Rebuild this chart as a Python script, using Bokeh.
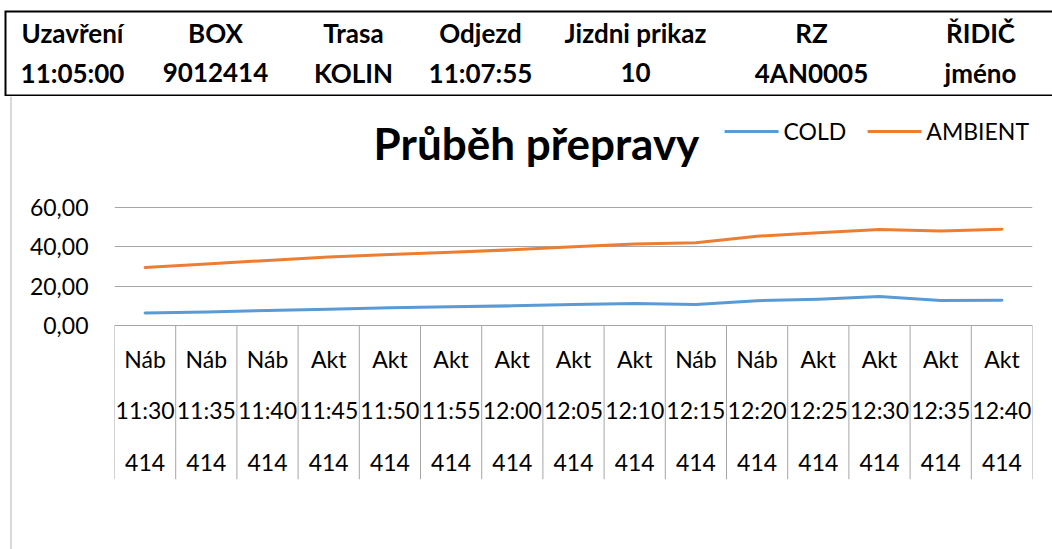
from bokeh.plotting import figure
from bokeh.models import (ColumnDataSource, FactorRange, Range1d, FixedTicker, Legend,
                          LegendItem, CustomJSTickFormatter)
from bokeh.layouts import column, row
from bokeh.core.properties import value
from bokeh.embed import file_html
from bokeh.resources import INLINE

# ---------------- data ----------------
header_titles = ["Uzavření", "BOX", "Trasa", "Odjezd", "Jizdni prikaz", "RZ", "ŘIDIČ"]
header_values = ["11:05:00", "9012414", "KOLIN", "11:07:55", "10", "4AN0005", "jméno"]

cat_type = ["Náb", "Náb", "Náb", "Akt", "Akt", "Akt", "Akt", "Akt", "Akt",
            "Náb", "Náb", "Akt", "Akt", "Akt", "Akt"]
cat_time = ["11:30", "11:35", "11:40", "11:45", "11:50", "11:55", "12:00", "12:05",
            "12:10", "12:15", "12:20", "12:25", "12:30", "12:35", "12:40"]
cat_code = ["414", "414", "414", "414", "414", "414", "414", "414",
            "414", "414", "414", "414", "414", "414", "414"]

cold = [6.4, 6.9, 7.6, 8.3, 9.0, 9.5, 10.0, 10.7, 11.2, 10.7, 12.6, 13.4, 14.7, 12.7, 12.8]
ambient = [29.5, 31.3, 33.1, 34.8, 36.1, 37.3, 38.5, 40.0, 41.5, 42.1, 45.4, 47.1, 48.8, 48.0, 48.9]

y_ticks = [0, 20, 40, 60]
title_text = "Průběh přepravy"

# ---------------- layout / style ----------------
FONT = "Lato"
GRID = "#a6a6a6"
HDR_W, HDR_H = 1052, 96
CH_H = 453
STRIP_W = 12
header_x = [72, 215, 353, 480, 635, 811, 980]
header_rows_y = [64, 24]
header_box = dict(left=5, right=HDR_W + 20, top=85, bottom=1)
label_rows_y = [-16.8, -43.2, -69.7]
title_pos = (6.895, 92.8)
Y_START, Y_END = -78.3, 116.44

factors = [f"{a} {b} {c}" for a, b, c in zip(cat_type, cat_time, cat_code)]


def no_align(fig):
    if "frame_align" in fig.properties():
        fig.frame_align = False


def bare(fig):
    no_align(fig)
    fig.grid.visible = False
    fig.outline_line_color = None
    fig.background_fill_color = "white"
    fig.border_fill_color = "white"


# ---------------- header table ----------------
hdr = figure(width=HDR_W, height=HDR_H, x_range=Range1d(0, HDR_W), y_range=Range1d(0, HDR_H),
             output_backend="svg", toolbar_location=None,
             x_axis_location=None, y_axis_location=None,
             min_border_left=0, min_border_right=0, min_border_top=0, min_border_bottom=0)
bare(hdr)
bl, br = header_box["left"], header_box["right"]
bt, bb = header_box["top"], header_box["bottom"]
hdr.multi_line(xs=[[br, bl, bl, br]], ys=[[bt, bt, bb, bb]],
               line_color="black", line_width=2, line_join="miter")
n = len(header_titles)
hsrc = ColumnDataSource(dict(x=header_x * 2,
                             y=[header_rows_y[0]] * n + [header_rows_y[1]] * n,
                             t=header_titles + header_values))
hdr.text(x="x", y="y", text="t", source=hsrc, text_font=value(FONT),
         text_font_style="bold", text_font_size="26px", text_align="center",
         text_baseline="alphabetic", text_color="black")

# ---------------- chart-area left border strip ----------------
strip = figure(width=STRIP_W, height=CH_H, x_range=Range1d(0, STRIP_W), y_range=Range1d(0, CH_H),
               output_backend="svg", toolbar_location=None,
               x_axis_location=None, y_axis_location=None,
               min_border_left=0, min_border_right=0, min_border_top=0, min_border_bottom=0)
bare(strip)
strip.segment(x0=[STRIP_W - 1.5], y0=[0], x1=[STRIP_W - 1.5], y1=[CH_H],
              line_color="#b3b3b3", line_width=1)

# ---------------- chart ----------------
p = figure(width=HDR_W - STRIP_W, height=CH_H,
           x_range=FactorRange(factors=factors, range_padding=0, factor_padding=0),
           y_range=Range1d(Y_START, Y_END),
           output_backend="svg", toolbar_location=None, x_axis_location=None,
           min_border_left=114 - STRIP_W, min_border_right=20, min_border_top=0,
           min_border_bottom=70)
no_align(p)
p.outline_line_color = None
p.background_fill_color = "white"
p.border_fill_color = "white"

ticker = FixedTicker(ticks=y_ticks)
p.yaxis.ticker = ticker
p.yaxis.formatter = CustomJSTickFormatter(code="return tick.toFixed(2).replace('.', ',');")
p.yaxis.axis_line_color = None
p.yaxis.major_tick_line_color = None
p.yaxis.minor_tick_line_color = None
p.yaxis.major_tick_out = 0
p.yaxis.major_tick_in = 0
p.yaxis.major_label_standoff = 26
p.yaxis.major_label_text_font = FONT
p.yaxis.major_label_text_font_size = "23px"
p.yaxis.major_label_text_color = "black"
p.xgrid.visible = False
p.ygrid.ticker = ticker
p.ygrid.grid_line_color = GRID
p.ygrid.grid_line_width = 1

# category separators (boundaries between factors)
bounds = list(range(len(factors) + 1))
p.segment(x0=bounds, y0=[0] * len(bounds), x1=bounds, y1=[Y_START] * len(bounds),
          line_color=GRID, line_width=1)

# multi-row category labels
m = len(factors)
lsrc = ColumnDataSource(dict(x=factors * 3,
                             y=[label_rows_y[0]] * m + [label_rows_y[1]] * m + [label_rows_y[2]] * m,
                             t=cat_type + cat_time + cat_code))
p.text(x="x", y="y", text="t", source=lsrc, text_font=value(FONT),
       text_font_size="23px", text_align="center", text_baseline="alphabetic",
       text_color="black")

# title
p.text(x=[title_pos[0]], y=[title_pos[1]], text=[title_text], text_font=value(FONT),
       text_font_style="bold", text_font_size="44px", text_align="center",
       text_baseline="alphabetic", text_color="black")

r_cold = p.line(x=factors, y=cold, line_color="#5b9bd5", line_width=3,
                line_cap="round", line_join="round")
r_amb = p.line(x=factors, y=ambient, line_color="#ed7d31", line_width=3,
               line_cap="round", line_join="round")

legend = Legend(items=[LegendItem(label="COLD", renderers=[r_cold]),
                       LegendItem(label="AMBIENT", renderers=[r_amb])],
                orientation="horizontal", location="top_right",
                label_text_font=FONT, label_text_font_size="23px",
                label_text_color="black",
                glyph_width=54, glyph_height=64, label_height=64,
                label_standoff=5, spacing=21, padding=0, margin=3,
                border_line_color=None, background_fill_alpha=0)
p.add_layout(legend)

layout = column(hdr, row(strip, p, spacing=0), spacing=0)
open("out.html", "w").write(file_html(layout, INLINE))
